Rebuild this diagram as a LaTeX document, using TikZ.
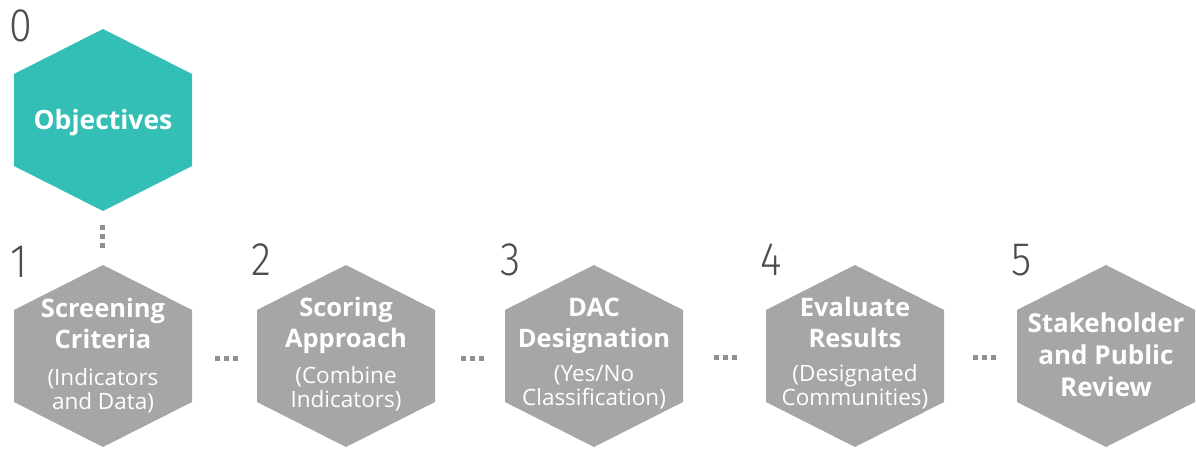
\documentclass[tikz,border=0pt]{standalone}
\usepackage{fontspec}
\setmainfont{Open Sans}
\newfontfamily\numfont{Fira Sans Light}
\definecolor{tealhex}{RGB}{51,191,181}
\definecolor{grayhex}{RGB}{166,166,166}
\definecolor{dotgray}{RGB}{145,145,145}
\definecolor{numgray}{RGB}{77,77,77}
\begin{document}
\begin{tikzpicture}[x=1pt,y=-1pt,
  title/.style={text=white, align=center, inner sep=0pt, anchor=base,
    font=\bfseries\fontsize{25.5}{31}\selectfont},
  sub/.style={text=white, align=center, inner sep=0pt, anchor=base,
    font=\fontsize{22.5}{24}\selectfont},
  num/.style={text=numgray, inner sep=0pt, anchor=base west, xscale=0.88,
    font=\numfont\fontsize{47}{47}\selectfont},
  dotline/.style={draw=dotgray, line width=5pt, dash pattern=on 5pt off 4pt}
]
\useasboundingbox (0,0) rectangle (1196,454);
\newcommand\hexagon[3]{%
  \fill[#3] (#1-89,#2-46) -- (#1-89,#2+46) -- (#1,#2+91) -- (#1+89,#2+46)
    -- (#1+89,#2-46) -- (#1,#2-91) -- cycle;}
% hexagons
\hexagon{103}{120}{tealhex}
\hexagon{103}{356}{grayhex}
\hexagon{346}{356}{grayhex}
\hexagon{594}{356}{grayhex}
\hexagon{855}{356}{grayhex}
\hexagon{1106}{356}{grayhex}
% numbers
\node[num] (n0) at (9,42) {0};
\node[num] (n1) at (10,277) {1};
\node[num] (n2) at (251,276) {2};
\node[num] (n3) at (500,276) {3};
\node[num] (n4) at (760,276) {4};
\node[num] (n5) at (1011,276) {5};
% labels (anchor = baseline of last line)
\node[title, font=\bfseries\fontsize{26.5}{31}\selectfont] (h0) at (103,130) {Objectives};
\node[title] (h1) at (103,348) {Screening\\Criteria};
\node[sub] (h1s) at (103,409) {(Indicators\\and Data)};
\node[title] (h2) at (346,347) {Scoring\\Approach};
\node[sub] (h2s) at (346,407) {(Combine\\Indicators)};
\node[title] (h3) at (594,347) {DAC\\Designation};
\node[sub] (h3s) at (594,405) {(Yes/No\\Classification)};
\node[title] (h4) at (855,347) {Evaluate\\Results};
\node[sub] (h4s) at (855,405) {(Designated\\Communities)};
\node[title, font=\bfseries\fontsize{26}{32}\selectfont] (h5) at (1106,396) {Stakeholder\\and Public\\Review};
% dotted connectors
\coordinate (v0a) at (102,225);
\coordinate (v0b) at (102,248);
\draw[dotline] (v0a) -- (v0b);
\coordinate (d1a) at (215,358.5);
\coordinate (d1b) at (238,358.5);
\draw[dotline] (d1a) -- (d1b);
\coordinate (d2a) at (461,358.5);
\coordinate (d2b) at (484,358.5);
\draw[dotline] (d2a) -- (d2b);
\coordinate (d3a) at (714,357.5);
\coordinate (d3b) at (737,357.5);
\draw[dotline] (d3a) -- (d3b);
\coordinate (d4a) at (973,357.5);
\coordinate (d4b) at (996,357.5);
\draw[dotline] (d4a) -- (d4b);
\end{tikzpicture}
\end{document}
